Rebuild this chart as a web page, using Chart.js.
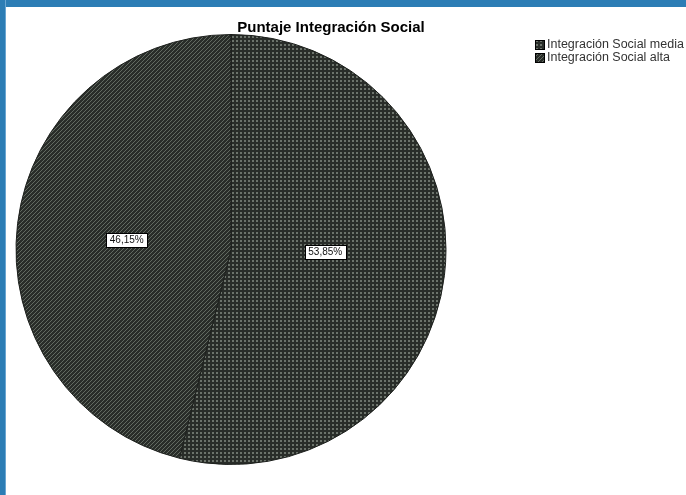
<!DOCTYPE html>
<html>
<head>
<meta charset="utf-8">
<script src="https://cdn.jsdelivr.net/npm/chart.js@4.4.1/dist/chart.umd.min.js"></script>
<style>
  html, body { margin: 0; padding: 0; background: #fff; }
  .frame { position: relative; width: 686px; height: 495px; overflow: hidden; }
  .bar-top { position: absolute; left: 0; top: 0; width: 686px; height: 7px; background: #2c7db5; }
  .bar-left { position: absolute; left: 0; top: 0; width: 6px; height: 495px; background: #2c7db5; border-right: 1px solid #6aa6d2; box-sizing: border-box; }
  canvas { position: absolute; left: 0; top: 0; }
</style>
</head>
<body>
<div class="frame">
  <canvas id="pie" width="686" height="495"></canvas>
  <div class="bar-top"></div>
  <div class="bar-left"></div>
</div>
<script>
const chartTitle = "Puntaje Integración Social";
const categories = ["Integración Social media", "Integración Social alta"];
const percentages = [53.85, 46.15];

// fill patterns like the SPSS export
function dotPattern() {
  const c = document.createElement("canvas");
  c.width = 4; c.height = 4;
  const g = c.getContext("2d");
  g.fillStyle = "#292d29";
  g.fillRect(0, 0, 4, 4);
  g.fillStyle = "#6c736b";
  g.fillRect(0, 0, 2, 2);
  return g.createPattern(c, "repeat");
}
function hatchPattern() {
  const c = document.createElement("canvas");
  c.width = 4; c.height = 4;
  const g = c.getContext("2d");
  g.fillStyle = "#292d29";
  g.fillRect(0, 0, 4, 4);
  g.fillStyle = "#626a61";
  for (let i = 0; i < 4; i++) g.fillRect(i, 3 - i, 1, 1);
  return g.createPattern(c, "repeat");
}

const ctx = document.getElementById("pie").getContext("2d");
const fills = [dotPattern(), hatchPattern()];

const extrasPlugin = {
  id: "extras",
  afterDraw(chart) {
    const c = chart.ctx;
    c.save();
    // percentage boxes
    const meta = chart.getDatasetMeta(0);
    c.font = "10px 'Liberation Sans', Arial, sans-serif";
    c.textAlign = "center";
    c.textBaseline = "middle";
    meta.data.forEach((arc, i) => {
      const p = arc.getProps(["x", "y", "startAngle", "endAngle", "outerRadius"], true);
      const mid = (p.startAngle + p.endAngle) / 2;
      const x = p.x - 5 + Math.cos(mid) * p.outerRadius * 0.465;
      const y = p.y - 3.5 + Math.sin(mid) * p.outerRadius * 0.23;
      const txt = percentages[i].toFixed(2).replace(".", ",") + "%";
      const w = Math.round(c.measureText(txt).width + 7);
      const bx = Math.round(x - w / 2) + 0.5, by = Math.round(y - 7) + 0.5;
      c.fillStyle = "#fff";
      c.fillRect(bx, by, w, 14);
      c.strokeStyle = "#000";
      c.lineWidth = 1;
      c.strokeRect(bx, by, w, 14);
      c.fillStyle = "#111";
      c.fillText(txt, x, y + 0.5);
    });
    // title
    c.font = "bold 15px 'Liberation Sans', Arial, sans-serif";
    c.fillStyle = "#000";
    c.fillText(chartTitle, 331, 28);
    // legend
    c.font = "12.5px 'Liberation Sans', Arial, sans-serif";
    c.textAlign = "left";
    categories.forEach((lab, i) => {
      const y = 45 + i * 13;
      c.fillStyle = fills[i];
      c.fillRect(535, y - 5, 10, 10);
      c.strokeStyle = "#000";
      c.strokeRect(535.5, y - 4.5, 9, 9);
      c.fillStyle = "#333";
      c.fillText(lab, 547, y);
    });
    c.restore();
  }
};

new Chart(ctx, {
  type: "pie",
  data: {
    labels: categories,
    datasets: [{
      data: percentages,
      backgroundColor: fills,
      borderColor: "#1c1f1c",
      borderWidth: 1
    }]
  },
  options: {
    responsive: false,
    animation: false,
    layout: { padding: { top: 34, bottom: 30, left: 10, right: 234 } },
    plugins: {
      legend: { display: false },
      title: { display: false },
      tooltip: { enabled: false }
    }
  },
  plugins: [extrasPlugin]
});
</script>
</body>
</html>
